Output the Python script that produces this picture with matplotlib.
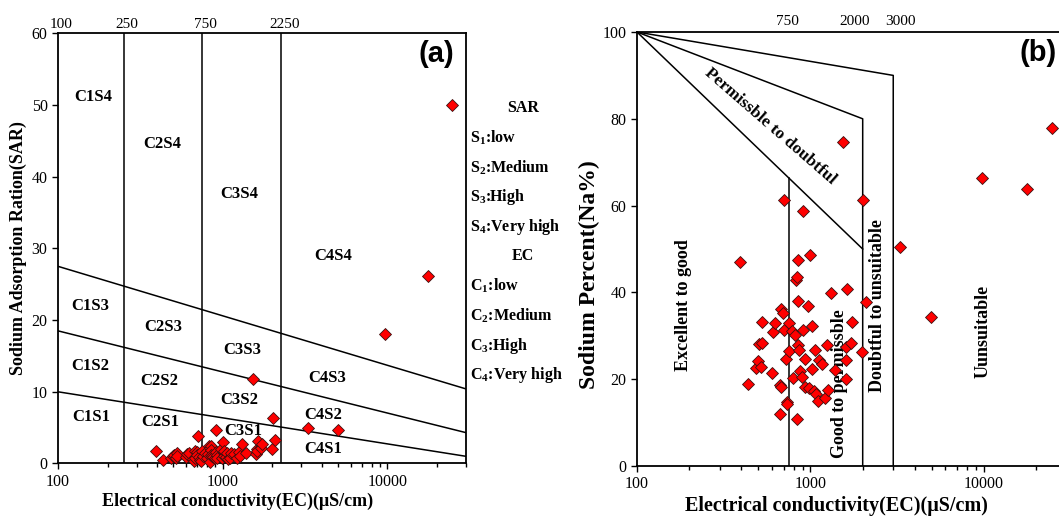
import numpy as np
import matplotlib
matplotlib.use('Agg')
import matplotlib.pyplot as plt
import matplotlib.transforms as mtransforms
from matplotlib.ticker import LogLocator, NullFormatter

plt.rcParams['font.family'] = 'Liberation Serif'
plt.rcParams['mathtext.fontset'] = 'custom'
plt.rcParams['mathtext.rm'] = 'Liberation Serif:bold'
plt.rcParams['mathtext.it'] = 'Liberation Serif:bold'
plt.rcParams['mathtext.bf'] = 'Liberation Serif:bold'

# samples: electrical conductivity (uS/cm), sodium percent, SAR
ec = [393, 436, 483, 497, 504, 522, 527, 527, 598, 607,
      627, 663, 669, 679, 679, 693, 700, 706, 719, 728,
      736, 752, 756, 782, 798, 811, 828, 835, 837, 846,
      849, 852, 863, 873, 894, 910, 911, 925, 925, 969,
      985, 1000, 1016, 1018, 1052, 1063, 1079, 1111, 1125, 1172,
      1219, 1250, 1270, 1315, 1389, 1535, 1594, 1603, 1603, 1626,
      1708, 1742, 1985, 2016, 2089, 3289, 4980, 9700, 17600, 24700]
na_pct = [47.1, 18.8, 22.6, 24.3, 28.1, 22.9, 33.1, 28.4, 21.5, 30.9,
          33.0, 18.7, 12.0, 36.2, 18.1, 35.2, 31.3, 61.3, 24.7, 14.8,
          14.2, 32.9, 26.4, 31.1, 20.3, 30.2, 42.9, 43.5, 10.8, 47.5,
          38.1, 27.9, 26.7, 22.0, 20.6, 58.8, 31.3, 24.6, 18.3, 36.9,
          17.9, 48.6, 22.3, 32.3, 17.4, 26.7, 16.6, 15.0, 24.4, 23.5,
          15.6, 27.8, 17.5, 39.9, 22.1, 74.6, 20.0, 27.5, 24.4, 40.8,
          28.3, 33.1, 26.3, 61.4, 37.7, 50.4, 34.3, 66.3, 63.8, 77.9]
sar = [1.7, 0.5, 0.8, 1.0, 1.2, 0.7, 1.4, 1.1, 0.9, 1.3,
       1.5, 0.6, 0.4, 1.8, 0.7, 1.6, 1.2, 3.8, 0.9, 0.5,
       0.3, 1.7, 1.0, 1.4, 0.8, 1.3, 2.4, 2.2, 0.2, 2.5,
       1.9, 1.2, 1.1, 0.9, 0.8, 4.7, 1.6, 1.2, 0.7, 2.0,
       0.8, 3.0, 1.1, 1.7, 0.9, 1.4, 0.6, 0.7, 1.5, 1.3,
       0.8, 1.6, 1.0, 2.7, 1.5, 11.8, 1.3, 2.0, 1.7, 3.2,
       2.2, 2.7, 2.0, 6.3, 3.3, 4.9, 4.7, 18.1, 26.1, 50.0]

# Richards (USSL) diagram boundaries
ec_classes = [250, 750, 2250]
top_labels_a = [100, 250, 750, 2250]
sar_line_ec = [100, 30000]
sar_lines = [[10.0, 1.0], [18.5, 4.3], [27.5, 10.4]]
zone_names = ['C1S4', 'C2S4', 'C3S4', 'C4S4',
              'C1S3', 'C2S3', 'C3S3', 'C4S3',
              'C1S2', 'C2S2', 'C3S2', 'C4S2',
              'C1S1', 'C2S1', 'C3S1', 'C4S1']
zone_ec = [164, 427, 1256, 4700,
           156, 438, 1312, 4300,
           156, 409, 1259, 4070,
           160, 416, 1325, 4070]
zone_sar = [51.1, 44.6, 37.6, 28.9,
            22.0, 19.0, 15.8, 11.9,
            13.6, 11.5, 8.8, 6.8,
            6.5, 5.8, 4.5, 2.0]
legend_lines = ['SAR', r'S$_\mathrm{1}$:low', r'S$_\mathrm{2}$:Medium', r'S$_\mathrm{3}$:High',
                r'S$_\mathrm{4}$:Very high', 'EC', r'C$_\mathrm{1}$:low', r'C$_\mathrm{2}$:Medium',
                r'C$_\mathrm{3}$:High', r'C$_\mathrm{4}$:Very high']

# Wilcox diagram boundaries
wilcox_ec = [[100, 2000], [750, 750], [100, 2000, 2000], [100, 3000, 3000]]
wilcox_na = [[100, 50], [0, 66.4], [100, 80, 0], [100, 90, 0]]
top_labels_b = [750, 2000, 3000]
top_label_shift_b = [0.98, 0.90, 1.10]
class_names = ['Excellent to good', 'Good to permissble', 'Doubtful to unsuitable', 'Uunsuitable']
class_ec = [185, 1466, 2427, 9900]
class_na = [37.0, 19.1, 36.9, 31.0]

fig = plt.figure(figsize=(10.59, 5.17), dpi=100)
ax1 = fig.add_axes([0.0548, 0.1035, 0.3853, 0.832])
ax2 = fig.add_axes([0.6015, 0.0986, 0.4058, 0.8395])

marker_kw = dict(marker='D', ms=6.5, mfc='#ff0000', mec='#3a1010', mew=0.6, ls='none', zorder=5)
lw = 1.1

# ---- (a) ----
for x in ec_classes:
    ax1.plot([x, x], [0, 60], color='black', lw=lw)
for ys in sar_lines:
    ax1.plot(sar_line_ec, ys, color='black', lw=lw)
ax1.plot(ec, sar, clip_on=False, **marker_kw)
for name, x, y in zip(zone_names, zone_ec, zone_sar):
    ax1.text(x, y, name, ha='center', va='center', fontsize=12, fontweight='bold')

ax1.set_xscale('log')
ax1.set_xlim(100, 30000)
ax1.set_ylim(0, 60)
ax1.set_xticks([100, 1000, 10000])
ax1.set_xticklabels(['100', '1000', '10000'])
ax1.set_yticks(range(0, 61, 10))
ax1.set_xlabel('Electrical conductivity(EC)(μS/cm)', fontsize=13, fontweight='bold')
ax1.xaxis.set_label_coords(0.44, -0.068)
ax1.set_ylabel('Sodium Adsorption Ration(SAR)', fontsize=13, fontweight='bold', labelpad=3)
ax1.text(0.97, 0.985, '(a)', transform=ax1.transAxes, ha='right', va='top',
         fontsize=21, fontweight='bold', family='Liberation Sans')
trans1 = mtransforms.blended_transform_factory(ax1.transData, ax1.transAxes)
for v in top_labels_a:
    ax1.text(v * 1.05, 1.006, str(v), transform=trans1, ha='center', va='bottom', fontsize=11)

for i, t in enumerate(legend_lines):
    y = 1 - (108 + 29.7 * i) / 517
    if t in ('SAR', 'EC'):
        fig.text(523 / 1059, y, t, ha='center', va='center', fontsize=11.5, fontweight='bold')
    else:
        fig.text(470 / 1059, y, t, ha='left', va='center', fontsize=11.5, fontweight='bold')

# ---- (b) ----
for xs, ys in zip(wilcox_ec, wilcox_na):
    ax2.plot(xs, ys, color='black', lw=lw)
ax2.plot(ec, na_pct, clip_on=False, **marker_kw)
ax2.text(585, 78.2, 'Permissble to doubtful', rotation=-41, ha='center', va='center',
         fontsize=12.5, fontweight='bold', rotation_mode='anchor')
for name, x, y in zip(class_names, class_ec, class_na):
    ax2.text(x, y, name, rotation=90, ha='center', va='center', fontsize=13, fontweight='bold')

ax2.set_xscale('log')
ax2.set_xlim(100, 30000)
ax2.set_ylim(0, 100)
ax2.set_xticks([100, 1000, 10000])
ax2.set_xticklabels(['100', '1000', '10000'])
ax2.set_yticks(range(0, 101, 20))
ax2.set_xlabel('Electrical conductivity(EC)(μS/cm)', fontsize=14.5, fontweight='bold')
ax2.xaxis.set_label_coords(0.463, -0.068)
ax2.set_ylabel('Sodium Percent(Na%)', fontsize=17, fontweight='bold')
ax2.yaxis.set_label_coords(-0.085, 0.44)
ax2.text(0.89, 0.985, '(b)', transform=ax2.transAxes, ha='left', va='top',
         fontsize=21, fontweight='bold', family='Liberation Sans')
trans2 = mtransforms.blended_transform_factory(ax2.transData, ax2.transAxes)
for v, f in zip(top_labels_b, top_label_shift_b):
    ax2.text(v * f, 1.01, str(v), transform=trans2, ha='center', va='bottom', fontsize=11)

for ax in (ax1, ax2):
    ax.xaxis.set_minor_locator(LogLocator(base=10, subs=np.arange(2, 10)))
    ax.xaxis.set_minor_formatter(NullFormatter())
    ax.tick_params(which='both', direction='out', labelsize=11.5, width=1.0)
    ax.tick_params(which='major', length=4)
    ax.tick_params(which='minor', length=3)
    for s in ax.spines.values():
        s.set_linewidth(1.3)

fig.savefig('out.png', dpi=100)
